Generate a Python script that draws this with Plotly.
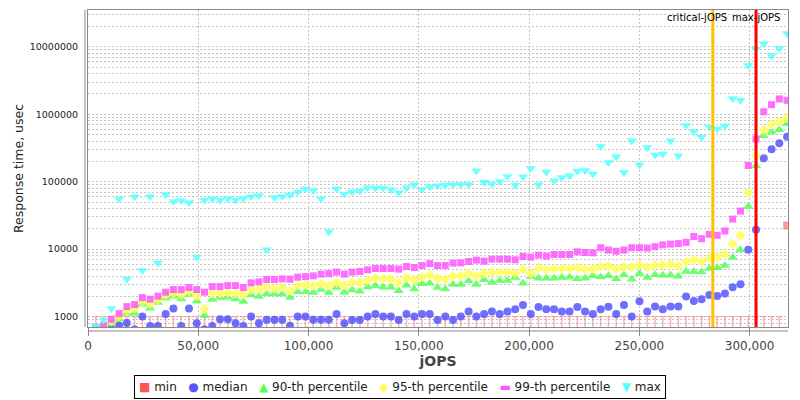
import math
import plotly.graph_objects as go

# ---------------- data ----------------
JOPS = [3522, 7044, 10566, 14088, 17610, 21132, 24654, 28176, 31698, 35220,
        38742, 42264, 45786, 49308, 52830, 56352, 59874, 63396, 66918, 70440,
        73962, 77484, 81006, 84528, 88050, 91572, 95094, 98616, 102138, 105660,
        109182, 112704, 116226, 119748, 123270, 126792, 130314, 133836, 137358, 140880,
        144402, 147924, 151446, 154968, 158490, 162012, 165534, 169056, 172578, 176100,
        179622, 183144, 186666, 190188, 193710, 197232, 200754, 204276, 207798, 211320,
        214842, 218364, 221886, 225408, 228930, 232452, 235974, 239496, 243018, 246540,
        250062, 253584, 257106, 260628, 264150, 267672, 271194, 274716, 278238, 281760,
        285282, 288804, 292326, 295848, 299370, 302892, 306414, 309936, 313458, 316980]

MIN_RT = [1000, 1000, 1000, 1000, 1000, 1000, 1000, 1000, 1000, 1000,
          1000, 1000, 1000, 1000, 1000, 1000, 1000, 1000, 1000, 1000,
          1000, 1000, 1000, 1000, 1000, 1000, 1000, 1000, 1000, 1000,
          1000, 1000, 1000, 1000, 1000, 1000, 1000, 1000, 1000, 1000,
          1000, 1000, 1000, 1000, 1000, 1000, 1000, 1000, 1000, 1000,
          1000, 1000, 1000, 1000, 1000, 1000, 1000, 1000, 1000, 1000,
          1000, 1000, 1000, 1000, 1000, 1000, 1000, 1000, 1000, 1000,
          1000, 1000, 1000, 1000, 1000, 1000, 1000, 1000, 1000, 1000,
          1000, 1000, 1000, 1000, 1000, 1000, 1000, 1000, 1000, 22400]

MEDIAN_RT = [600, 620, 660, 740, 805, 650, 1000, 728, 728, 1097,
             1315, 728, 1315, 798, 650, 728, 914, 914, 798, 728,
             1000, 798, 900, 900, 900, 735, 1000, 1000, 900, 900,
             900, 1097, 798, 893, 893, 1000, 1097, 1000, 1000, 893,
             1097, 1000, 1097, 1097, 893, 1000, 893, 1000, 1187, 1000,
             1097, 1187, 1097, 1187, 1288, 1492, 1097, 1393, 1288, 1288,
             1187, 1187, 1393, 1187, 1097, 1288, 1400, 1097, 1492, 1000,
             1693, 1194, 1408, 1290, 1408, 1408, 1995, 1711, 1812, 2100,
             2014, 2208, 2718, 3027, 9780, 19360, 222000, 302000, 371000, 466000]

P90_RT = [560, 650, 798, 914, 1123, 1123, 1528, 1333, 1614, 1875,
          2010, 1832, 2123, 1711, 1035, 1788, 1914, 1943, 1832, 1671,
          2100, 1982, 2190, 2173, 2173, 1914, 2327, 2327, 2270, 2518,
          2270, 2698, 2303, 2490, 2385, 2760, 2856, 2730, 2730, 2410,
          2926, 2576, 3061, 3133, 2698, 2576, 2985, 2985, 3388, 2985,
          3507, 3243, 3428, 3428, 3795, 3133, 3925, 3715, 3715, 3715,
          3795, 3850, 3630, 3715, 4020, 3880, 4020, 3650, 4160, 3590,
          4350, 3795, 4160, 4120, 4150, 3950, 4660, 4660, 4600, 5165,
          5285, 5715, 7520, 9780, 42900, 173000, 482000, 547000, 592000, 726000]

P95_RT = [600, 700, 850, 1000, 1228, 1315, 1671, 1545, 1770, 2100,
          2225, 2123, 2385, 2029, 1300, 2225, 2225, 2270, 2225, 2123,
          2518, 2576, 2730, 2604, 2730, 2432, 2926, 2926, 2856, 3061,
          2884, 3198, 2926, 3243, 3133, 3468, 3715, 3630, 3590, 3198,
          3760, 3507, 3850, 4120, 3675, 3540, 4020, 4020, 4405, 4020,
          4405, 4500, 4500, 4560, 4405, 5055, 4405, 5240, 4935, 5165,
          5165, 5165, 5285, 5055, 5055, 5525, 5600, 5100, 5480, 5420,
          5860, 5410, 5790, 5790, 5995, 5600, 6490, 6950, 6560, 7520,
          7600, 8440, 11880, 15960, 69300, 243000, 586000, 710000, 786000, 883000]

P99_RT = [680, 735, 914, 1108, 1408, 1507, 1914, 1812, 2010, 2303,
          2518, 2518, 2698, 2518, 2303, 2788, 2788, 2884, 2884, 2698,
          3162, 3273, 3550, 3540, 3630, 3590, 3850, 3925, 4020, 4265,
          4345, 4560, 4265, 4560, 4660, 4935, 5165, 5165, 5165, 5055,
          5525, 5345, 5715, 6120, 5715, 5715, 6210, 6270, 6560, 6870,
          6640, 7110, 7110, 7110, 6950, 7780, 7620, 8160, 7890, 8340,
          8340, 8340, 9140, 8930, 8830, 10480, 9700, 9300, 9700, 10500,
          10500, 10400, 10900, 11600, 11900, 12100, 12600, 15400, 14300, 16600,
          16000, 18600, 27900, 36700, 174000, 430000, 1090000, 1390000, 1690000, 1610000]

MAX_RT = [728, 893, 1315, 56000, 3590, 59800, 4820, 60500, 6210, 64100,
          51000, 52800, 49300, 7620, 53400, 56000, 53400, 56500, 53400, 56500,
          60500, 62000, 9770, 58500, 60500, 63500, 70300, 78700, 74300, 56000,
          18100, 78700, 65700, 70300, 72800, 81500, 80600, 80600, 76000, 69300,
          81500, 90300, 76900, 84300, 87300, 89300, 90300, 91300, 91300, 145700,
          97800, 92500, 101000, 119900, 89300, 118600, 157500, 90300, 139300, 103500,
          115900, 122700, 144200, 147200, 130000, 334000, 193500, 235000, 137400, 406000,
          177000, 323000, 249000, 258000, 406000, 243000, 679000, 553000, 455000, 640000,
          612000, 671000, 1708000, 1611000, 5270000, 9200000, 11080000, 7350000, 9430000, 15800000]

CRITICAL_JOPS = 283300
MAX_JOPS = 302900

SERIES_NAMES = ["min", "median", "90-th percentile", "95-th percentile", "99-th percentile", "max"]
X_TICKS = [0, 50000, 100000, 150000, 200000, 250000, 300000]
X_TICK_LABELS = ["0", "50,000", "100,000", "150,000", "200,000", "250,000", "300,000"]
Y_TICKS = [1000, 10000, 100000, 1000000, 10000000]
Y_TICK_LABELS = ["1000", "10000", "100000", "1000000", "10000000"]

# ---------------- style ----------------
X_RANGE = [0, 317400]
Y_RANGE_LOG = [2.846, 7.546]
FONT = "DejaVu Sans"
GRID = "#c4c4c4"
BORDER = "#8a8a8a"
COLORS = {
    "min": "rgba(255,85,85,0.85)",
    "median": "rgba(85,85,255,0.85)",
    "90-th percentile": "rgba(85,255,85,0.85)",
    "95-th percentile": "rgba(255,255,85,0.85)",
    "99-th percentile": "rgba(255,85,255,0.85)",
    "max": "rgba(85,255,255,0.85)",
}
SOLID = {
    "min": "#FF5555", "median": "#5555FF", "90-th percentile": "#55FF55",
    "95-th percentile": "#FFFF55", "99-th percentile": "#FF55FF", "max": "#55FFFF",
}
SYMBOLS = {"median": "circle", "90-th percentile": "triangle-up", "95-th percentile": "diamond",
           "99-th percentile": "square", "max": "triangle-down"}
SIZES = {"median": 8, "90-th percentile": 9, "95-th percentile": 8, "99-th percentile": 7, "max": 9}
GLYPHS = {"min": "\u25A0", "median": "\u25CF", "90-th percentile": "\u25B2",
          "95-th percentile": "\u25C6", "99-th percentile": "\u25AC", "max": "\u25BC"}

y_floor = 10 ** Y_RANGE_LOG[0]

fig = go.Figure()

# min series: stems from the min value down to the axis floor, capped
stem_x, stem_y = [], []
for x, v in zip(JOPS, MIN_RT):
    if v <= 1000:
        stem_x += [x, x, None]
        stem_y += [v, y_floor, None]
fig.add_trace(go.Scatter(x=stem_x, y=stem_y, mode="lines",
                         line=dict(color="rgba(255,85,85,0.45)", width=1.5),
                         hoverinfo="skip", showlegend=False))
fig.add_trace(go.Scatter(
    x=JOPS, y=MIN_RT, mode="markers", name="min", showlegend=False,
    marker=dict(symbol=["line-ew" if v <= 1000 else "square" for v in MIN_RT],
                size=[5 if v <= 1000 else 7 for v in MIN_RT], color=COLORS["min"],
                line=dict(color="rgba(255,85,85,0.45)", width=1.5))))

series = {"median": MEDIAN_RT, "90-th percentile": P90_RT, "95-th percentile": P95_RT,
          "99-th percentile": P99_RT, "max": MAX_RT}
for name, vals in series.items():
    fig.add_trace(go.Scatter(
        x=JOPS, y=vals, mode="markers", name=name, showlegend=False,
        marker=dict(symbol=SYMBOLS[name], size=SIZES[name], color=COLORS[name],
                    line=dict(width=0))))

# minor log gridlines
minor_vals = [k * 10 ** d for d in range(2, 8) for k in range(2, 10)
              if Y_RANGE_LOG[0] <= math.log10(k * 10 ** d) <= Y_RANGE_LOG[1]]

shapes = [
    dict(type="line", xref="x", yref="paper", x0=CRITICAL_JOPS, x1=CRITICAL_JOPS, y0=0, y1=1,
         line=dict(color="#FFC000", width=3), layer="above"),
    dict(type="line", xref="x", yref="paper", x0=MAX_JOPS, x1=MAX_JOPS, y0=0, y1=1,
         line=dict(color="#FF0000", width=3), layer="above"),
    # offset axis lines
    dict(type="line", xref="paper", yref="paper", xsizemode="pixel", xanchor=0,
         x0=-3, x1=-3, y0=0, y1=1, line=dict(color=BORDER, width=1)),
    dict(type="line", xref="paper", yref="paper", ysizemode="pixel", yanchor=0,
         y0=-4, y1=-4, x0=0, x1=1, line=dict(color=BORDER, width=1)),
]

NB = "\u00a0"
legend_text = (NB * 3).join(
    f"<span style='color:{SOLID[n]}'>{GLYPHS[n]}</span>{NB}{n}" for n in SERIES_NAMES)

annotations = [
    dict(x=CRITICAL_JOPS, xref="x", y=1, yref="paper", text="critical-jOPS", showarrow=False,
         xanchor="right", yanchor="middle", xshift=16, yshift=-7,
         font=dict(family=FONT, size=10, color="#000")),
    dict(x=MAX_JOPS, xref="x", y=1, yref="paper", text="max-jOPS", showarrow=False,
         xanchor="left", yanchor="middle", xshift=-26, yshift=-7,
         font=dict(family=FONT, size=10, color="#000")),
    dict(x=(400 - 88) / 700, xref="paper", y=(327 - 387) / 317, yref="paper",
         text=legend_text, showarrow=False, xanchor="center", yanchor="middle",
         font=dict(family=FONT, size=12, color="#222"),
         bordercolor="#000", borderwidth=1, borderpad=4, bgcolor="#fff"),
]

fig.update_layout(
    width=800, height=400,
    margin=dict(l=88, r=12, t=10, b=73),
    paper_bgcolor="#fff", plot_bgcolor="#fff",
    font=dict(family=FONT, color="#444"),
    showlegend=False,
    hovermode=False,
    shapes=shapes,
    annotations=annotations,
    xaxis=dict(
        range=X_RANGE, tickvals=X_TICKS, ticktext=X_TICK_LABELS,
        tickfont=dict(family=FONT, size=12, color="#444"),
        showgrid=True, gridcolor=GRID, griddash="2px,2px", gridwidth=1,
        zeroline=False, showline=True, mirror=True, linecolor=BORDER, linewidth=1,
        ticks="outside", ticklen=8, tickcolor=BORDER,
        title=dict(text="<b>jOPS</b>", font=dict(family=FONT, size=14, color="#444"), standoff=0),
    ),
    yaxis=dict(
        type="log", range=Y_RANGE_LOG, tickvals=Y_TICKS, ticktext=Y_TICK_LABELS,
        tickfont=dict(family=FONT, size=9.5, color="#222"),
        showgrid=True, gridcolor=GRID, griddash="2px,2px", gridwidth=1,
        minor=dict(tickvals=minor_vals, showgrid=True, gridcolor=GRID, griddash="2px,2px", ticks=""),
        zeroline=False, showline=True, mirror=True, linecolor=BORDER, linewidth=1,
        ticks="outside", ticklen=7, tickcolor="rgba(0,0,0,0)",
        title=dict(text="Response time, usec", font=dict(family=FONT, size=12.5, color="#222"), standoff=3),
    ),
)

fig.write_html("out.html")
